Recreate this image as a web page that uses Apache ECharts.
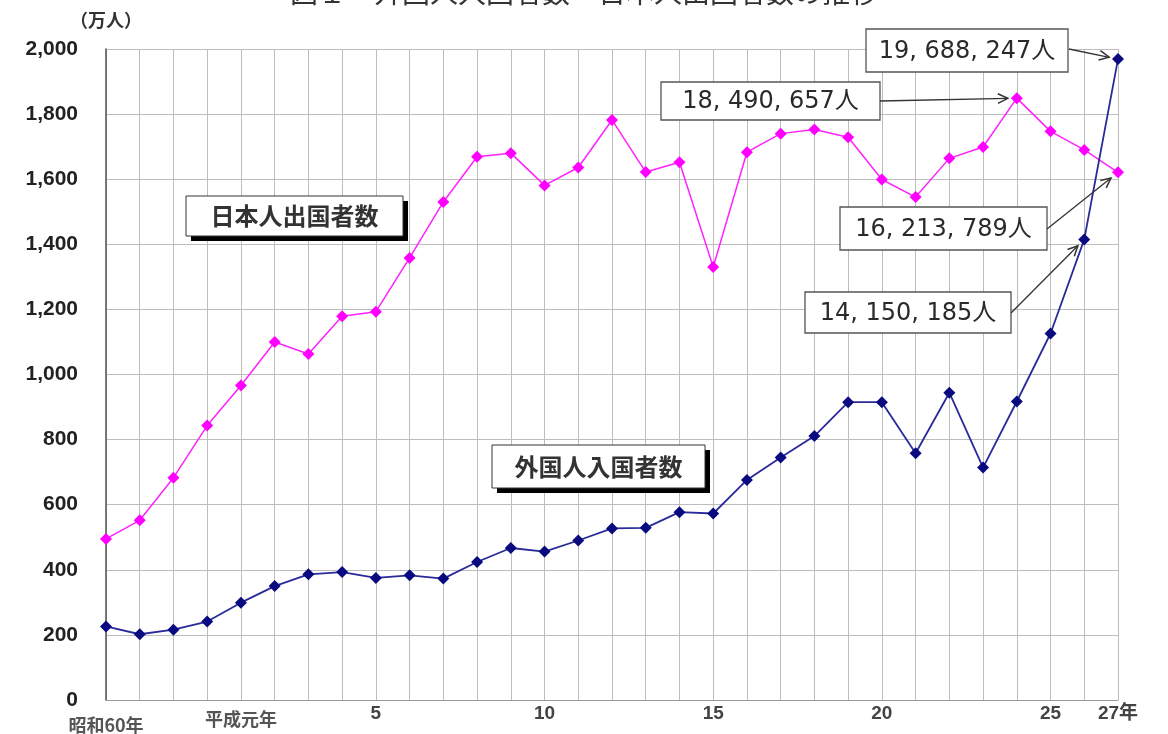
<!DOCTYPE html>
<html>
<head>
<meta charset="utf-8">
<script src="https://cdn.jsdelivr.net/npm/echarts@6/dist/echarts.min.js"></script>
<style>
html,body{margin:0;padding:0;background:#fff;}
#c{width:1168px;height:734px;}
</style>
</head>
<body>
<div id="c"></div>
<script>
// 年（昭和60年〜平成27年）
var years = ['昭和60','61','62','63','平成元','2','3','4','5','6','7','8','9','10','11','12','13','14','15','16','17','18','19','20','21','22','23','24','25','26','27'];
// 軸目盛ラベル
var xTickLabels = ['{a|昭和60年}','','','','{b|平成元年}','','','','5','','','','','10','','','','','15','','','','','20','','','','','25','','27年'];
// 日本人出国者数（万人）
var japanese = [495,552,683,843,966,1100,1063,1179,1193,1358,1530,1669,1680,1581,1636,1782,1622,1652,1330,1683,1740,1753,1729,1599,1545,1664,1699,1849,1747,1690,1621];
// 外国人入国者数（万人）
var foreign = [226,202,216,241,299,350,386,393,375,383,373,424,467,456,490,527,529,577,573,676,745,811,915,915,758,944,714,917,1126,1415,1969];
// 注記
var notes = [
  {text:'19, 688, 247人', series:1, idx:30, box:[866,29,202,43], from:[1069,49]},
  {text:'18, 490, 657人', series:0, idx:27, box:[661,82,219,38], from:[880,101]},
  {text:'16, 213, 789人', series:0, idx:30, box:[840,207,207,43], from:[1047,229]},
  {text:'14, 150, 185人', series:1, idx:29, box:[805,292,206,41], from:[1011,313]}
];
var seriesLabels = [
  {text:'日本人出国者数', box:[186,196,217,40]},
  {text:'外国人入国者数', box:[492,445,213,43]}
];

var chart = echarts.init(document.getElementById('c'));
var font = '"Liberation Sans", Arial, "Noto Sans CJK JP", sans-serif';
var jp = '"Noto Sans CJK JP", sans-serif';
var option = {
  backgroundColor:'#fff',
  animation:false,
  title:{
    text:'図１　外国人入国者数・日本人出国者数の推移',
    left:'center', top:-27,
    textStyle:{fontSize:28, fontWeight:'normal', color:'#333', fontFamily:jp}
  },
  grid:{left:106, right:50, top:49, bottom:34, containLabel:false},
  xAxis:{
    type:'category',
    data:years,
    boundaryGap:false,
    axisLine:{show:true, lineStyle:{color:'#999', width:1}},
    axisTick:{show:false},
    splitLine:{show:true, interval:0, lineStyle:{color:'#bdbdbd', width:1}},
    axisLabel:{
      interval:0,
      margin:4,
      formatter:function(v,i){return xTickLabels[i];},
      color:'#444',
      fontSize:19,
      fontWeight:'bold',
      fontFamily:font,
      rich:{
        a:{fontSize:18, fontWeight:'bold', color:'#555', fontFamily:jp, padding:[12,0,0,0]},
        b:{fontSize:18, fontWeight:'bold', color:'#555', fontFamily:jp, padding:[6,0,0,0]}
      }
    }
  },
  yAxis:{
    type:'value',
    min:0, max:2000, interval:200,
    name:'（万人）',
    nameLocation:'end',
    nameGap:20,
    nameTextStyle:{fontSize:18, fontWeight:'bold', color:'#333', fontFamily:jp, align:'center'},
    axisLine:{show:true, lineStyle:{color:'#555', width:1.5}},
    axisTick:{show:false},
    splitLine:{show:true, lineStyle:{color:'#bdbdbd', width:1}},
    axisLabel:{
      margin:28,
      color:'#222',
      fontSize:21,
      fontWeight:'bold',
      fontFamily:font,
      formatter:function(v){return v.toString().replace(/\B(?=(\d{3})+(?!\d))/g, ',');}
    }
  },
  series:[
    {
      name:'日本人出国者数', type:'line', data:japanese,
      symbol:'diamond', symbolSize:12,
      lineStyle:{color:'#ff22ff', width:1.5},
      itemStyle:{color:'#ff00ff'}
    },
    {
      name:'外国人入国者数', type:'line', data:foreign,
      symbol:'diamond', symbolSize:12,
      lineStyle:{color:'#2a2a9a', width:1.8},
      itemStyle:{color:'#0a0a80'}
    }
  ]
};
chart.setOption(option);

var g = [];
function arrow(x1,y1,x2,y2){
  var dx=x2-x1, dy=y2-y1, L=Math.sqrt(dx*dx+dy*dy);
  var ux=dx/L, uy=dy/L;
  var ex=x2-ux*9, ey=y2-uy*9;
  var hl=11, a=0.45;
  var ca=Math.cos(a), sa=Math.sin(a);
  var bx1=ex-hl*(ux*ca-uy*sa), by1=ey-hl*(uy*ca+ux*sa);
  var bx2=ex-hl*(ux*ca+uy*sa), by2=ey-hl*(uy*ca-ux*sa);
  g.push({type:'line', shape:{x1:x1,y1:y1,x2:ex,y2:ey}, style:{stroke:'#333', lineWidth:1.3}, z:100});
  g.push({type:'polyline', shape:{points:[[bx1,by1],[ex,ey],[bx2,by2]]}, style:{stroke:'#333', lineWidth:1.5, fill:null}, z:100});
}
notes.forEach(function(n){
  var b=n.box;
  g.push({type:'rect', shape:{x:b[0],y:b[1],width:b[2],height:b[3]}, style:{fill:'#fff', stroke:'#555', lineWidth:1.3}, z:100});
  g.push({type:'text', x:b[0]+b[2]/2, y:b[1]+b[3]/2+1, style:{text:n.text, fill:'#2a2a2a', font:'24px "DejaVu Sans", "Noto Sans CJK JP", sans-serif', align:'center', verticalAlign:'middle'}, z:101});
  var p = chart.convertToPixel({seriesIndex:n.series}, [n.idx, (n.series===0?japanese:foreign)[n.idx]]);
  arrow(n.from[0], n.from[1], p[0], p[1]);
});
seriesLabels.forEach(function(s){
  var b=s.box;
  g.push({type:'rect', shape:{x:b[0]+5,y:b[1]+5,width:b[2],height:b[3]}, style:{fill:'#000'}, z:100});
  g.push({type:'rect', shape:{x:b[0],y:b[1],width:b[2],height:b[3]}, style:{fill:'#fff', stroke:'#333', lineWidth:1}, z:101});
  g.push({type:'text', x:b[0]+b[2]/2, y:b[1]+b[3]/2, style:{text:s.text, fill:'#333', font:'bold 24px "Noto Sans CJK JP", sans-serif', align:'center', verticalAlign:'middle'}, z:102});
});
chart.setOption({graphic:g});
</script>
</body>
</html>
